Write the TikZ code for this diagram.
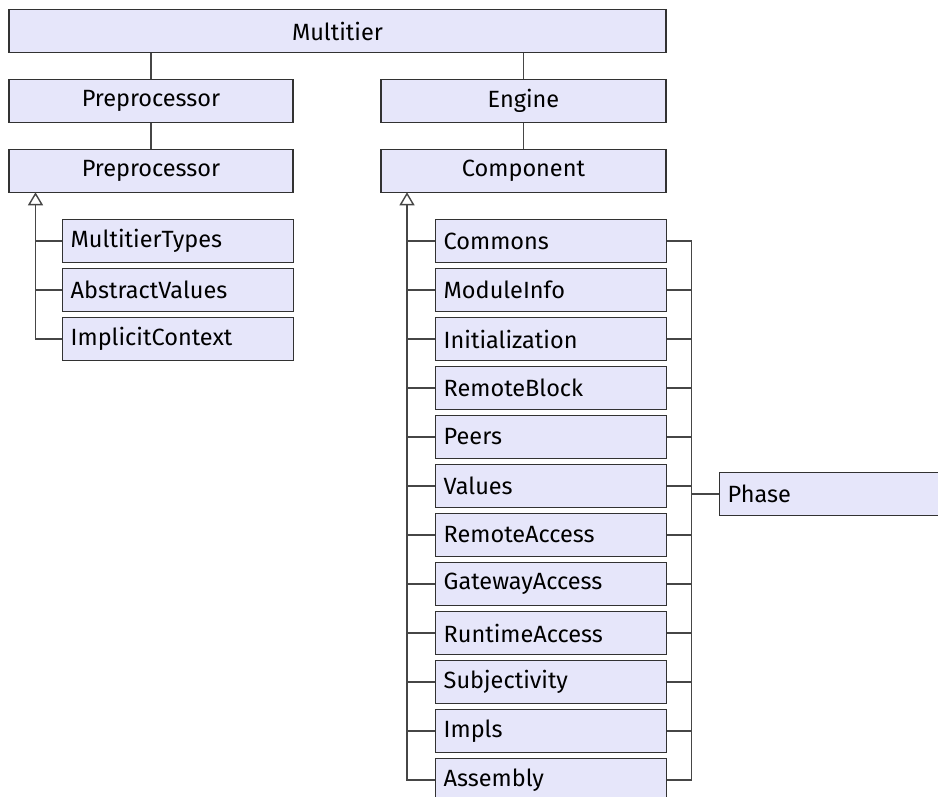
\documentclass[tikz,border=0pt]{standalone}
\usepackage{fontspec}
\IfFontExistsTF{Fira Sans Book}{\setsansfont{Fira Sans Book}}{\setsansfont{Fira Sans}}
\usetikzlibrary{arrows.meta, positioning}

\definecolor{umlfill}{RGB}{230,230,250}
\definecolor{umlline}{RGB}{50,50,50}
\definecolor{umledge}{RGB}{70,70,70}

\tikzset{
    cls/.style={draw=umlline, fill=umlfill, line width=1.4pt, minimum height=42.5pt,
        inner sep=0pt, font=\sffamily\fontsize{23.5}{28}\selectfont},
    sub/.style={cls, anchor=west, inner xsep=8pt, text width=215pt, align=left},
    link/.style={draw=umledge, line width=1.4pt},
    inherit/.style={link, -{Triangle[open, length=13pt, width=15pt]}}
}

\begin{document}
\begin{tikzpicture}[x=1pt, y=-1pt]
        \useasboundingbox (0, 0) rectangle (938, 796);
        \clip (0, 0) rectangle (938, 796);

        \node [cls, minimum width=657pt] (Mt) at (337.5, 31) {Multitier};
        \node [cls, minimum width=284pt] (Pp1) at (151, 101) {Preprocessor};
        \node [cls, minimum width=285pt] (En) at (523.5, 101) {Engine};
        \node [cls, minimum width=284pt] (Pp2) at (151, 171) {Preprocessor};
        \node [cls, minimum width=285pt] (Co) at (523.5, 171) {Component};

        % preprocessor side
        \node [sub] (MtT) at (62, 241) {MultitierTypes};
        \node [sub] (AbV) at (62, 290) {AbstractValues};
        \node [sub] (ImC) at (62, 339) {ImplicitContext};

        % component side
        \node [sub] (Cm) at (435, 241) {Commons};
        \node [sub] (MoI) at (435, 290) {ModuleInfo};
        \node [sub] (Ini) at (435, 339) {Initialization};
        \node [sub] (ReB) at (435, 388) {RemoteBlock};
        \node [sub] (Pe) at (435, 437) {Peers};
        \node [sub] (Va) at (435, 486) {Values};
        \node [sub] (ReA) at (435, 535) {RemoteAccess};
        \node [sub] (GaA) at (435, 584) {GatewayAccess};
        \node [sub] (RuA) at (435, 633) {RuntimeAccess};
        \node [sub] (Su) at (435, 682) {Subjectivity};
        \node [sub] (Im) at (435, 731) {Impls};
        \node [sub] (As) at (435, 780) {Assembly};

        \node [sub] (Ph) at (719, 494) {Phase};

        \coordinate (PpT) at (35.5, 192.3);
        \coordinate (CoT) at (407, 192.3);
        \coordinate (Bus) at (691.5, 494);

        \draw [link] (Mt.south -| Pp1.north) -- (Pp1.north);
        \draw [link] (Mt.south -| En.north) -- (En.north);
        \draw [link] (Pp1.south) -- (Pp2.north);
        \draw [link] (En.south) -- (Co.north);

        \draw [inherit] (ImC.west) -| (PpT);
        \draw [link] (MtT.west) -- (MtT.west -| PpT);
        \draw [link] (AbV.west) -- (AbV.west -| PpT);

        \draw [inherit] (As.west) -| (CoT);
        \draw [link] (Cm.west) -- (Cm.west -| CoT);
        \draw [link] (MoI.west) -- (MoI.west -| CoT);
        \draw [link] (Ini.west) -- (Ini.west -| CoT);
        \draw [link] (ReB.west) -- (ReB.west -| CoT);
        \draw [link] (Pe.west) -- (Pe.west -| CoT);
        \draw [link] (Va.west) -- (Va.west -| CoT);
        \draw [link] (ReA.west) -- (ReA.west -| CoT);
        \draw [link] (GaA.west) -- (GaA.west -| CoT);
        \draw [link] (RuA.west) -- (RuA.west -| CoT);
        \draw [link] (Su.west) -- (Su.west -| CoT);
        \draw [link] (Im.west) -- (Im.west -| CoT);

        \draw [link] (Cm.east) -| (Bus);
        \draw [link] (As.east) -| (Bus);
        \draw [link] (MoI.east) -- (MoI.east -| Bus);
        \draw [link] (Ini.east) -- (Ini.east -| Bus);
        \draw [link] (ReB.east) -- (ReB.east -| Bus);
        \draw [link] (Pe.east) -- (Pe.east -| Bus);
        \draw [link] (Va.east) -- (Va.east -| Bus);
        \draw [link] (ReA.east) -- (ReA.east -| Bus);
        \draw [link] (GaA.east) -- (GaA.east -| Bus);
        \draw [link] (RuA.east) -- (RuA.east -| Bus);
        \draw [link] (Su.east) -- (Su.east -| Bus);
        \draw [link] (Im.east) -- (Im.east -| Bus);
        \draw [link] (Bus) -- (Ph.west);
    \end{tikzpicture}
\end{document}
